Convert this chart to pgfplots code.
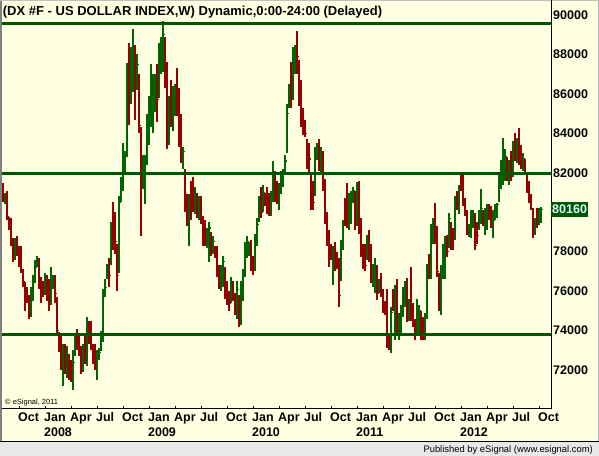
\documentclass[border=0pt]{standalone}
\usepackage{pgfplots}
\pgfplotsset{compat=1.18}
\usepackage{pgfplotstable}
\usepackage{fontspec}
\setmainfont{Liberation Sans}
\definecolor{cream}{RGB}{255,255,225}
\definecolor{upg}{RGB}{0,100,0}
\definecolor{dnr}{RGB}{150,0,0}
\definecolor{lineg}{RGB}{0,85,0}
\definecolor{stripgray}{RGB}{232,232,232}
\definecolor{framegray}{RGB}{128,128,128}
\definecolor{pricetext}{RGB}{215,255,255}

\pgfplotstableread{
i o h l c
0 81.3 81.5 80.5 80.7
1 80.6 81.0 80.4 80.8
2 80.9 81.1 79.6 79.8
3 79.7 79.75 79.1 79.4
4 79.4 79.7 78.3 78.5
5 78.5 78.7 77.5 77.7
6 77.7 78.7 77.6 78.3
7 78.4 78.8 77.8 78.0
8 78.0 78.3 77.2 77.5
9 77.6 78.3 76.9 77.0
10 77.0 77.1 76.2 76.5
11 76.4 76.45 75.0 75.6
12 75.9 76.2 75.4 75.6
13 75.6 75.8 74.6 74.9
14 75.0 76.2 74.7 76.0
15 75.9 76.8 75.5 76.5
16 76.6 77.6 76.4 77.2
17 77.3 77.8 77.2 77.6
18 77.5 77.7 76.1 76.3
19 76.3 76.7 75.4 75.9
20 76.2 76.5 75.7 75.9
21 75.9 76.9 75.8 76.6
22 76.6 76.8 75.5 76.0
23 76.0 76.6 75.0 75.3
24 75.4 77.2 75.3 76.8
25 76.4 76.8 76.1 76.7
26 76.6 76.8 75.4 75.9
27 75.6 75.7 73.9 74.0
28 73.9 73.95 72.9 73.5
29 73.5 73.7 72.0 72.3
30 72.3 73.3 71.2 72.5
31 72.6 73.3 71.8 72.2
32 72.1 73.2 71.6 72.5
33 72.5 72.8 71.5 71.8
34 72.2 72.5 71.4 71.7
35 71.7 73.0 71.0 72.4
36 72.8 73.9 72.7 73.6
37 73.6 74.1 73.0 73.3
38 73.5 73.9 72.7 72.9
39 73.0 73.2 71.8 72.2
40 72.1 73.3 71.9 72.8
41 73.0 73.9 72.3 72.6
42 72.6 74.7 72.2 74.2
43 74.2 74.5 73.3 73.5
44 73.6 74.5 73.0 73.2
45 73.2 73.3 72.3 72.7
46 72.8 73.3 72.0 72.3
47 72.2 73.0 71.5 72.8
48 72.7 73.1 72.5 72.9
49 73.0 74.0 72.95 73.8
50 73.7 76.1 73.4 75.9
51 75.8 76.6 75.7 76.2
52 76.7 77.4 76.6 77.3
53 77.2 77.7 76.2 76.8
54 77.5 79.5 77.3 79.1
55 79.3 80.5 78.1 78.8
56 78.9 80.0 77.9 78.5
57 78.3 78.4 76.0 76.8
58 77.2 80.8 76.9 80.5
59 80.6 81.8 80.5 81.5
60 81.4 83.5 81.1 83.1
61 82.3 83.1 82.0 82.9
62 83.0 87.55 82.8 87.2
63 87.6 88.6 84.4 86.4
64 86.3 88.4 85.5 87.9
65 87.4 89.3 86.1 88.3
66 88.0 88.5 84.7 86.6
67 86.6 88.0 86.2 87.5
68 86.8 87.0 84.0 84.4
69 84.2 84.3 78.8 81.6
70 81.6 82.9 81.2 82.4
71 81.4 82.9 80.4 82.6
72 82.6 85.0 82.4 84.6
73 84.5 85.9 83.4 85.5
74 85.4 87.5 84.3 86.9
75 85.6 87.0 84.0 86.6
76 85.9 87.0 85.1 86.8
77 86.9 87.5 84.6 85.7
78 85.9 88.6 85.8 88.0
79 87.6 88.9 87.0 88.4
80 88.2 89.7 87.1 89.0
81 88.8 88.9 86.3 87.2
82 87.2 87.6 83.2 83.8
83 83.8 85.9 83.4 85.2
84 85.3 86.7 84.3 84.6
85 84.6 86.4 84.1 86.1
86 85.9 86.5 84.9 86.3
87 86.4 87.3 84.9 85.2
88 85.4 86.3 83.3 84.0
89 84.3 85.0 82.5 82.9
90 82.6 83.3 82.2 83.1
91 82.1 82.2 80.0 80.4
92 80.4 80.9 79.3 79.6
93 79.6 80.9 78.3 80.6
94 81.0 81.6 79.6 80.2
95 81.0 81.8 80.0 80.6
96 80.3 81.3 79.9 80.9
97 80.8 81.0 79.7 80.0
98 79.9 80.8 79.6 80.5
99 80.6 80.8 79.4 79.6
100 79.6 79.8 78.3 78.7
101 79.1 79.6 78.3 78.6
102 78.6 79.2 78.2 79.0
103 78.4 79.5 77.5 79.2
104 78.8 79.0 77.8 78.0
105 78.0 78.8 77.9 78.5
106 78.2 78.3 77.7 77.9
107 78.2 78.3 76.7 77.1
108 77.2 77.3 76.1 76.4
109 76.4 77.3 76.0 77.0
110 76.8 77.8 76.2 77.5
111 77.0 77.2 75.6 75.9
112 76.1 76.5 75.3 75.7
113 75.8 76.0 75.0 75.4
114 75.5 76.7 75.4 76.3
115 76.2 76.5 75.5 75.7
116 75.7 75.9 74.8 75.0
117 75.0 76.5 74.6 76.1
118 75.7 75.8 74.2 74.6
119 74.6 76.5 74.3 75.9
120 75.9 77.1 75.5 76.8
121 76.9 78.5 76.7 78.1
122 78.0 78.8 77.7 78.5
123 78.1 78.5 77.8 78.4
124 78.3 78.6 77.0 77.5
125 77.5 77.8 76.8 77.1
126 77.1 78.9 77.0 78.7
127 78.6 79.7 78.3 79.4
128 79.6 80.8 79.5 80.5
129 80.6 81.3 79.7 80.0
130 80.1 81.4 80.0 81.0
131 80.9 81.0 80.3 80.5
132 80.7 81.3 79.9 80.2
133 80.4 81.0 79.8 80.0
134 80.0 81.1 79.8 80.6
135 80.6 82.6 80.5 82.0
136 81.9 82.1 80.5 80.8
137 81.0 81.6 80.4 80.6
138 80.5 81.5 80.1 81.2
139 81.1 82.1 80.9 81.8
140 81.7 82.2 81.3 82.0
141 82.0 82.9 81.9 82.6
142 83.1 85.5 83.0 85.0
143 85.4 86.5 85.3 86.2
144 86.5 87.6 85.3 85.7
145 85.8 88.4 85.7 87.8
146 87.4 88.5 87.0 88.3
147 88.4 89.2 87.0 87.9
148 87.6 87.7 85.4 86.0
149 86.2 86.7 84.3 84.9
150 85.0 85.3 83.9 84.3
151 84.5 84.7 83.8 84.0
152 83.6 83.7 82.2 82.8
153 83.2 83.5 82.0 82.7
154 81.9 82.0 80.1 80.4
155 81.3 81.6 80.1 80.5
156 80.9 83.3 80.8 83.0
157 82.8 83.5 82.65 83.3
158 83.3 83.7 82.1 82.5
159 82.3 83.3 81.9 83.1
160 83.0 83.1 81.1 81.4
161 81.5 81.7 79.4 79.7
162 79.8 80.0 78.3 78.6
163 78.7 79.1 77.2 77.6
164 78.2 78.4 77.6 77.8
165 77.5 78.3 76.3 78.1
166 78.2 78.5 77.0 77.4
167 77.6 78.0 77.1 77.3
168 77.3 77.7 75.2 75.8
169 76.6 78.6 76.5 78.3
170 78.3 79.6 78.1 79.4
171 80.2 80.7 79.3 79.8
172 80.9 81.5 79.2 79.5
173 79.5 81.0 79.1 80.7
174 80.0 81.1 79.4 80.8
175 80.6 81.3 80.45 81.1
176 81.0 81.1 79.1 79.4
177 79.5 81.55 79.3 81.3
178 81.4 81.6 78.9 79.2
179 79.3 79.7 77.75 78.0
180 78.1 78.4 77.1 77.4
181 78.0 78.4 77.0 77.3
182 77.7 78.85 77.6 78.5
183 78.6 79.1 77.5 77.8
184 78.1 78.4 76.4 76.7
185 76.6 77.4 76.2 77.2
186 76.7 77.7 75.9 77.3
187 77.1 77.3 75.55 75.9
188 76.0 76.6 75.9 76.4
189 76.5 76.9 75.7 76.0
190 75.9 76.1 74.9 75.2
191 75.3 75.5 74.8 75.0
192 75.6 76.1 73.1 73.6
193 73.6 73.8 73.0 73.1
194 73.2 75.2 72.85 74.9
195 75.6 76.1 75.0 75.2
196 74.3 76.3 73.5 76.0
197 76.0 76.6 73.7 74.0
198 73.9 74.9 73.5 74.7
199 74.0 75.3 73.7 75.0
200 75.0 76.2 74.7 75.9
201 75.5 76.5 75.2 76.2
202 76.3 76.65 74.45 74.6
203 74.7 75.6 74.5 75.4
204 76.5 77.2 74.5 75.1
205 75.1 75.4 74.2 74.5
206 74.4 74.6 73.5 73.8
207 73.8 75.6 73.7 75.1
208 74.3 75.3 73.9 75.0
209 74.9 75.0 73.5 73.9
210 74.3 74.7 73.5 73.7
211 73.8 74.9 73.5 74.6
212 74.7 77.4 74.6 77.3
213 77.6 77.9 76.6 77.1
214 76.8 79.4 76.6 79.0
215 78.9 79.7 78.4 79.5
216 79.6 80.45 78.4 79.2
217 79.2 79.3 76.7 77.0
218 76.8 76.9 75.0 75.8
219 75.8 77.3 74.8 77.1
220 77.0 78.4 76.6 78.2
221 77.5 78.8 76.6 78.4
222 78.5 78.85 77.75 78.0
223 78.3 79.95 78.2 79.7
224 79.4 79.5 78.1 78.3
225 78.9 79.2 78.1 78.6
226 78.7 80.8 78.6 80.6
227 80.8 81.1 80.1 80.4
228 80.3 81.4 79.9 81.2
229 81.7 81.9 81.1 81.2
230 81.8 82.05 80.3 80.6
231 80.5 80.7 79.8 80.0
232 80.0 80.1 78.85 79.0
233 78.9 79.4 78.75 79.3
234 79.0 80.1 78.7 79.9
235 79.4 80.1 79.2 79.9
236 79.7 79.95 78.1 78.3
237 79.3 79.5 78.4 78.8
238 79.2 80.1 79.1 80.0
239 79.6 81.2 79.4 80.2
240 80.0 80.1 79.3 79.5
241 79.1 80.2 78.85 80.0
242 79.8 80.4 79.1 80.2
243 80.2 80.4 79.6 79.8
244 80.0 80.3 79.2 79.4
245 78.9 80.1 78.7 79.6
246 79.7 80.4 79.6 80.2
247 79.9 80.45 79.7 80.4
248 80.6 81.9 80.5 81.7
249 81.4 82.65 81.2 82.4
250 82.0 83.75 81.4 83.0
251 82.2 83.2 81.6 82.8
252 82.7 82.8 81.6 82.0
253 81.8 82.65 81.4 82.5
254 82.6 83.1 81.6 81.8
255 81.9 83.6 81.8 83.4
256 83.4 84.0 82.6 82.8
257 82.9 83.75 82.5 83.6
258 83.8 84.25 82.4 82.8
259 83.2 83.4 82.2 82.5
260 82.4 83.0 82.1 82.7
261 82.7 82.7 81.9 82.0
262 81.8 81.9 81.0 81.3
263 81.4 81.6 80.45 80.8
264 80.8 80.95 80.1 80.2
265 80.0 80.2 78.7 79.0
266 79.0 79.7 78.85 79.5
267 79.9 80.2 79.2 79.4
268 79.5 80.2 79.35 80.0
269 79.9 80.28 79.45 80.16
}\dx

\begin{document}
\begin{tikzpicture}
\useasboundingbox (-2bp,-47.5bp) rectangle (597bp,408.5bp);
\fill[cream] (-2bp,-47.5bp) rectangle (597bp,408.5bp);
\fill[stripgray] (-2bp,-47.5bp) rectangle (597bp,-33.5bp);
\draw[black, line width=1bp] (-2bp,-33bp) -- (597bp,-33bp);
\fill[framegray] (-2bp,-32.5bp) rectangle (0bp,408.5bp);
\draw[framegray!60, line width=1bp] (596.5bp,-32.5bp) -- (596.5bp,408.5bp);
\draw[framegray!50, line width=0.8bp] (-2bp,408.1bp) -- (597bp,408.1bp);
\begin{axis}[
  scale only axis, width=549bp, height=408.5bp,
  xmin=-0.5, xmax=274.0, ymin=70.048, ymax=90.763,
  axis x line*=bottom, axis y line*=right,
  axis line style={black, line width=1bp},
  clip=false,
  tick align=inside, major tick length=2.5bp,
  xtick style={black, line width=1bp},
  ytick style={draw=none},
  xtick={8,21,34,47,60,73,86,99,112,125,138,151,164,177,190,203,216,229,242,255,268},
  xticklabels={Oct,Jan,Apr,Jul,Oct,Jan,Apr,Jul,Oct,Jan,Apr,Jul,Oct,Jan,Apr,Jul,Oct,Jan,Apr,Jul,Oct},
  ytick={72,74,76,78,82,84,86,88,90},
  yticklabels={72000,74000,76000,78000,82000,84000,86000,88000,90000},
  yticklabel pos=right,
  tick label style={font=\fontsize{12.5bp}{14bp}\selectfont\bfseries},
  xticklabel style={anchor=base west, inner sep=0pt, yshift=-13.2bp, xshift=-1.1bp},
  yticklabel style={anchor=west, inner sep=0pt, xshift=2bp},
]
% up bars
\addplot[upg, line width=1.1bp, quiver={u=0, v=\thisrow{h}-\thisrow{l}},
  restrict expr to domain={\thisrow{c}-\thisrow{o}}{0:100}] table[x=i, y=l] {\dx};
\addplot[upg, line width=1.1bp, quiver={u=-0.75, v=0},
  restrict expr to domain={\thisrow{c}-\thisrow{o}}{0:100}] table[x=i, y=o] {\dx};
\addplot[upg, line width=1.1bp, quiver={u=0.75, v=0},
  restrict expr to domain={\thisrow{c}-\thisrow{o}}{0:100}] table[x=i, y=c] {\dx};
% down bars
\addplot[dnr, line width=1.1bp, quiver={u=0, v=\thisrow{h}-\thisrow{l}},
  restrict expr to domain={\thisrow{c}-\thisrow{o}}{-100:-0.001}] table[x=i, y=l] {\dx};
\addplot[dnr, line width=1.1bp, quiver={u=-0.75, v=0},
  restrict expr to domain={\thisrow{c}-\thisrow{o}}{-100:-0.001}] table[x=i, y=o] {\dx};
\addplot[dnr, line width=1.1bp, quiver={u=0.75, v=0},
  restrict expr to domain={\thisrow{c}-\thisrow{o}}{-100:-0.001}] table[x=i, y=c] {\dx};
% horizontal reference lines
\addplot[lineg, line width=3bp] coordinates {(-0.5,89.55) (274.0,89.55)};
\addplot[lineg, line width=3bp] coordinates {(-0.5,81.95) (274.0,81.95)};
\addplot[lineg, line width=3bp] coordinates {(-0.5,73.78) (274.0,73.78)};
% title
\node[anchor=base west, inner sep=0pt, xshift=0.7bp, yshift=-15.3bp,
  font=\fontsize{13bp}{15bp}\selectfont\bfseries] at (rel axis cs:0,1)
  {(DX \#F - US DOLLAR INDEX,W) Dynamic,0:00-24:00 (Delayed)};
% copyright
\node[anchor=base west, inner sep=0pt, xshift=3bp, yshift=4.5bp,
  font=\fontsize{7.5bp}{9bp}\selectfont] at (rel axis cs:0,0) {© eSignal, 2011};
% years
\foreach \xx/\yy in {21/2008,73/2009,125/2010,177/2011,229/2012}{
  \edef\tmp{\noexpand\node[anchor=base west, inner sep=0pt, xshift=-1.1bp, yshift=-28.2bp,
    font=\noexpand\fontsize{12.5bp}{14bp}\noexpand\selectfont\noexpand\bfseries]
    at (axis cs:\xx,70.048) {\yy};}\tmp
}
% last price marker
\node[anchor=west, fill=lineg, text=pricetext, inner xsep=1bp, inner ysep=0pt,
  minimum height=15bp, font=\fontsize{12.5bp}{14bp}\selectfont\bfseries]
  at (axis cs:274.0,80.16) {80160};
\end{axis}
\node[anchor=base east, inner sep=0pt, font=\fontsize{9.4bp}{11bp}\selectfont]
  at (591bp,-43.8bp) {Published by eSignal (www.esignal.com)};
\end{tikzpicture}
\end{document}
